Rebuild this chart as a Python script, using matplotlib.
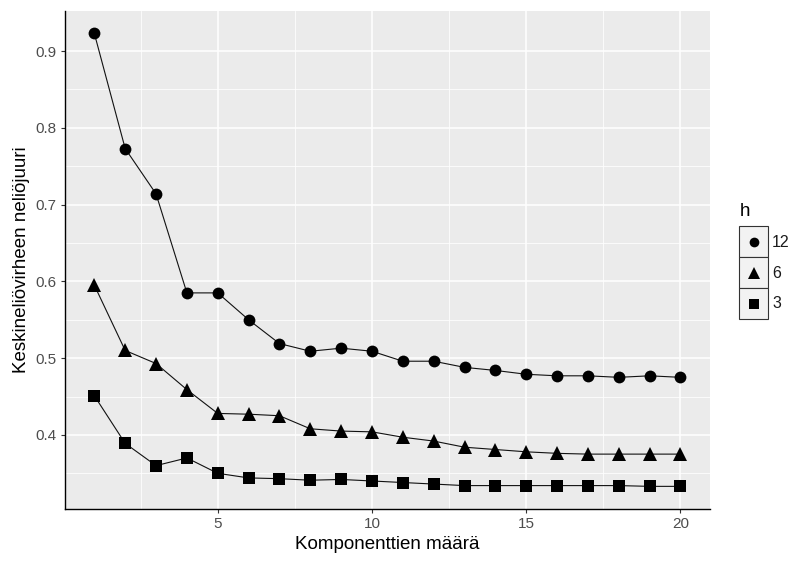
import numpy as np
import matplotlib
matplotlib.use("Agg")
import matplotlib.pyplot as plt
from matplotlib.patches import Rectangle
from matplotlib.lines import Line2D

plt.rcParams["font.family"] = ["Liberation Sans", "DejaVu Sans"]

komponentit = list(range(1, 21))

h12 = [0.923, 0.773, 0.714, 0.585, 0.585, 0.550, 0.519, 0.509, 0.513, 0.509,
       0.496, 0.496, 0.488, 0.484, 0.479, 0.477, 0.477, 0.475, 0.477, 0.475]
h6 = [0.595, 0.510, 0.493, 0.459, 0.428, 0.427, 0.425, 0.408, 0.405, 0.404,
      0.397, 0.392, 0.384, 0.381, 0.378, 0.376, 0.375, 0.375, 0.375, 0.375]
h3 = [0.451, 0.389, 0.360, 0.370, 0.350, 0.344, 0.343, 0.341, 0.342, 0.340,
      0.338, 0.336, 0.334, 0.334, 0.334, 0.334, 0.334, 0.334, 0.333, 0.333]

legend_labels = ["12", "6", "3"]
markers = ["o", "^", "s"]

fig = plt.figure(figsize=(7.95, 5.63), dpi=100)
ax = fig.add_axes([0.0818, 0.0959, 0.811, 0.885])
ax.set_facecolor("#EBEBEB")

for vals, m, ms in zip([h12, h6, h3], markers, [8.5, 9.5, 8.5]):
    ax.plot(komponentit, vals, color="#111111", lw=0.8, marker=m, ms=ms,
            markeredgewidth=0, markerfacecolor="black", zorder=3)

ax.set_xlim(0.05, 20.95)
ax.set_ylim(0.3035, 0.9525)
ax.set_xticks([5, 10, 15, 20])
ax.set_xticks([2.5, 7.5, 12.5, 17.5], minor=True)
ax.set_yticks([0.4, 0.5, 0.6, 0.7, 0.8, 0.9])
ax.set_yticks([0.35, 0.45, 0.55, 0.65, 0.75, 0.85], minor=True)
ax.grid(which="major", color="white", lw=1.1)
ax.grid(which="minor", color="white", lw=0.55)
ax.set_axisbelow(True)

for s in ["top", "right"]:
    ax.spines[s].set_visible(False)
for s in ["left", "bottom"]:
    ax.spines[s].set_color("black")
    ax.spines[s].set_linewidth(1.0)

ax.tick_params(which="major", length=3, color="#333333", labelsize=11,
               labelcolor="#4D4D4D", pad=3)
ax.tick_params(which="minor", length=0)

ax.set_xlabel("Komponenttien määrä", fontsize=13.5, labelpad=3)
ax.set_ylabel("Keskineliövirheen neliöjuuri", fontsize=13.5, labelpad=4)

# legend, drawn in figure pixels
W, H = 795, 563
fig.text(740 / W, 1 - 212 / H, "h", fontsize=13.5, va="center", ha="left")
for i, (lab, m) in enumerate(zip(legend_labels, markers)):
    top = 226 + i * 31
    fig.add_artist(Rectangle((739 / W, 1 - (top + 31) / H), 29 / W, 31 / H,
                             transform=fig.transFigure, facecolor="#F2F2F2",
                             edgecolor="#333333", lw=0.8))
    fig.add_artist(Line2D([753.5 / W], [1 - (top + 15.5) / H], marker=m,
                          ms=7 if m != "^" else 8.5, color="black",
                          markeredgewidth=0, transform=fig.transFigure))
    fig.text(772 / W, 1 - (top + 16) / H, lab, fontsize=11.5, va="center",
             ha="left", color="#1A1A1A")

plt.savefig("out.png", dpi=100)
